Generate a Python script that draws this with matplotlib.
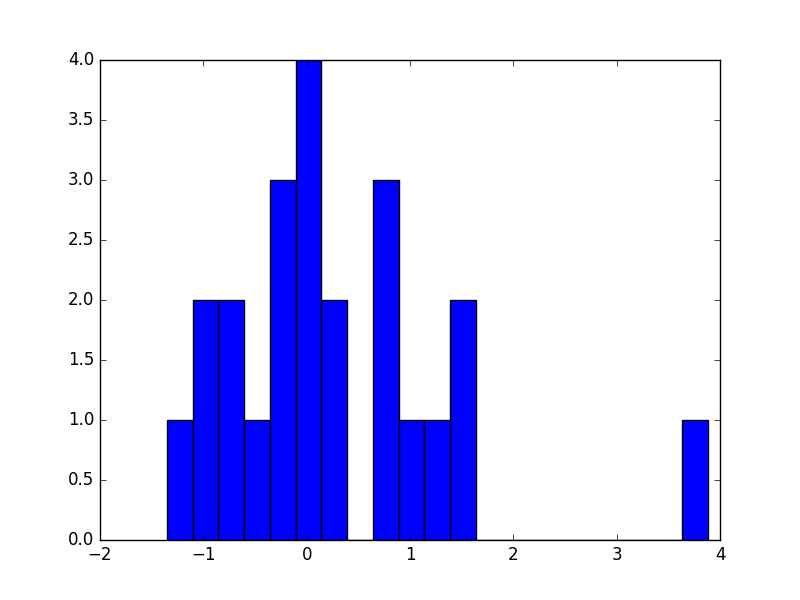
import matplotlib
matplotlib.use('Agg')
import matplotlib.pyplot as plt
import numpy as np

# histogram: 21 equal bins
bin_start = -1.352
bin_width = 0.2492
counts = [1, 2, 2, 1, 3, 4, 2, 0, 3, 1, 1, 2, 0, 0, 0, 0, 0, 0, 0, 0, 1]

edges = bin_start + bin_width * np.arange(len(counts) + 1)
centers = (edges[:-1] + edges[1:]) / 2

plt.style.use('classic')
fig = plt.figure(figsize=(8, 6), dpi=100)
ax = fig.add_subplot(111)

# rebuild the histogram with weights so that each bin gets its count
ax.hist(centers, bins=edges, weights=counts, color='b', edgecolor='k')

ax.set_xlim(-2, 4)
ax.set_ylim(0, 4)

fig.savefig('out.png', dpi=100)
